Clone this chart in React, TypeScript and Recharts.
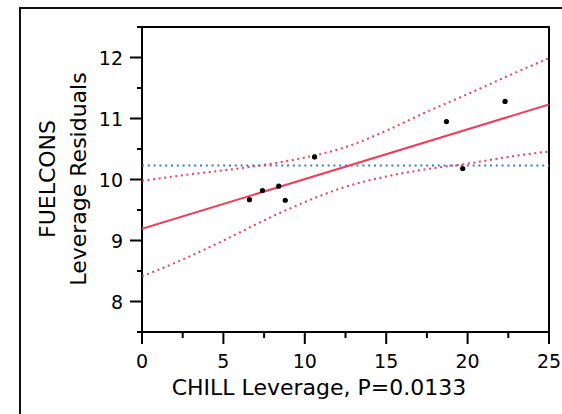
import React from "react";
import { ComposedChart, Line, Scatter, XAxis, YAxis, ReferenceLine, ReferenceArea } from "recharts";

// leverage points
const chillLev = [6.6, 7.4, 8.4, 8.8, 10.6, 18.7, 19.7, 22.3];
const fuelLev = [9.67, 9.82, 9.89, 9.66, 10.37, 10.95, 10.18, 11.28];

// fitted line ends
const fitX = [0, 25];
const fitY = [9.19, 11.23];

// confidence curves
const confX = [0, 2.5, 5, 7.5, 10, 12.5, 15, 17.5, 20, 22.5, 25];
const confUpper = [9.98, 10.07, 10.15, 10.24, 10.36, 10.53, 10.8, 11.11, 11.4, 11.7, 11.99];
const confLower = [8.41, 8.69, 9.0, 9.33, 9.63, 9.88, 10.05, 10.17, 10.26, 10.37, 10.46];

const meanY = 10.23;

const xTicks = [0, 2.5, 5, 7.5, 10, 12.5, 15, 17.5, 20, 22.5, 25];
const yTicks = [7.5, 8, 8.5, 9, 9.5, 10, 10.5, 11, 11.5, 12, 12.5];

const RED = "#F03E58";
const BLUE = "#3579E6";
const FONT = "DejaVu Sans";

const points = chillLev.map((x, i) => ({ x, y: fuelLev[i] }));
const fitData = fitX.map((x, i) => ({ x, y: fitY[i] }));
const upperData = confX.map((x, i) => ({ x, y: confUpper[i] }));
const lowerData = confX.map((x, i) => ({ x, y: confLower[i] }));

const XTick = (props: any) => {
  const { x, y, payload } = props;
  const major = payload.value % 5 === 0;
  return (
    <g>
      <line x1={x} y1={y} x2={x} y2={y + (major ? 12 : 6)} stroke="#000" strokeWidth={2} />
      {major && (
        <text x={x} y={y + 36} textAnchor="middle" fontSize={19} fontFamily={FONT} fill="#000">
          {payload.value}
        </text>
      )}
    </g>
  );
};

const YTick = (props: any) => {
  const { x, y, payload } = props;
  const major = Number.isInteger(payload.value);
  return (
    <g>
      <line x1={x} y1={y} x2={x - (major ? 12 : 5)} y2={y} stroke="#000" strokeWidth={2} />
      {major && (
        <text x={x - 19} y={y + 7} textAnchor="end" fontSize={19} fontFamily={FONT} fill="#000">
          {payload.value}
        </text>
      )}
    </g>
  );
};

const Dot = (props: any) => <circle cx={props.cx} cy={props.cy} r={2.6} fill="#000" />;

const YTitle = () => (
  <g fontFamily={FONT} fontSize={22} fill="#000">
    <text x={55} y={179} transform="rotate(-90 55 179)" textAnchor="middle">FUELCONS</text>
    <text x={86} y={179} transform="rotate(-90 86 179)" textAnchor="middle">Leverage Residuals</text>
  </g>
);

const XTitle = () => (
  <text x={319} y={395} textAnchor="middle" fontFamily={FONT} fontSize={22} fill="#000">
    CHILL Leverage, P=0.0133
  </text>
);

export default function App() {
  return (
    <div style={{ position: "absolute", left: 0, top: 0, width: 562, height: 414, background: "#fff", overflow: "hidden" }}>
      <div
        style={{
          position: "absolute",
          left: 19,
          top: 7,
          width: 600,
          height: 450,
          borderTop: "2px solid #111",
          borderLeft: "2px solid #111",
        }}
      />
      <ComposedChart width={562} height={414} margin={{ top: 27, right: 13, left: 0, bottom: 12 }} style={{ position: "absolute", left: 0, top: 0 }}>
        <XAxis
          type="number"
          dataKey="x"
          domain={[0, 25]}
          ticks={xTicks}
          interval={0}
          height={70}
          tickSize={0}
          tickMargin={0}
          tickLine={false}
          axisLine={false}
          tick={<XTick />}
          label={{ content: () => <XTitle /> }}
          allowDataOverflow
        />
        <YAxis
          type="number"
          dataKey="y"
          domain={[7.5, 12.5]}
          ticks={yTicks}
          interval={0}
          width={142}
          tickSize={0}
          tickMargin={0}
          tickLine={false}
          axisLine={false}
          tick={<YTick />}
          label={{ content: () => <YTitle /> }}
          allowDataOverflow
        />
        <ReferenceArea x1={0} x2={25} y1={7.5} y2={12.5} fill="none" stroke="#000" strokeWidth={2} fillOpacity={0} />
        <ReferenceLine y={meanY} stroke={BLUE} strokeWidth={2} strokeDasharray="2 3.8" />
        <Line data={upperData} dataKey="y" type="monotone" stroke={RED} strokeWidth={2} strokeDasharray="2 3.6" dot={false} isAnimationActive={false} />
        <Line data={lowerData} dataKey="y" type="monotone" stroke={RED} strokeWidth={2} strokeDasharray="2 3.6" dot={false} isAnimationActive={false} />
        <Line data={fitData} dataKey="y" type="linear" stroke={RED} strokeWidth={2} dot={false} isAnimationActive={false} />
        <Scatter data={points} dataKey="y" shape={<Dot />} isAnimationActive={false} />
      </ComposedChart>
    </div>
  );
}
